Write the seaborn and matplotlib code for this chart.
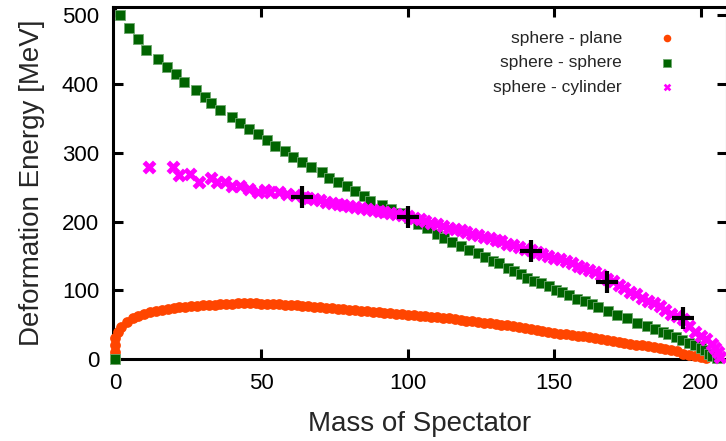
import matplotlib
matplotlib.use("Agg")
import matplotlib.pyplot as plt
import pandas as pd
import seaborn as sns

# ---- data ----
plane_x = [0, 0, 0, 0, 1, 2, 4, 6, 8, 10, 12, 14, 16, 18, 20, 22, 24, 26, 28, 30,
           32, 34, 36, 38, 40, 42, 44, 46, 48, 50, 52, 54, 56, 58, 60, 62, 64, 66,
           68, 70, 72, 74, 76, 78, 80, 82, 84, 86, 88, 90, 92, 94, 96, 98, 100,
           102, 104, 106, 108, 110, 112, 114, 116, 118, 120, 122, 124, 126, 128,
           130, 132, 134, 136, 138, 140, 142, 144, 146, 148, 150, 152, 154, 156,
           158, 160, 162, 164, 166, 168, 170, 172, 174, 176, 178, 180, 182, 184,
           186, 188, 190, 192, 194, 196, 198, 200, 202]
plane_e = [0, 10, 20, 30, 40, 47, 54, 59, 63, 66, 68, 70, 72, 73, 74, 75, 76, 77,
           77.5, 78, 78.5, 79, 79.5, 80, 80.5, 81, 81, 81, 81, 80.5, 80.5, 80,
           79.5, 79, 78.5, 78, 77, 76.5, 76, 75, 74.5, 74, 73, 72.5, 72, 71, 70.5,
           70, 69, 68, 67.5, 67, 66, 65, 64.5, 64, 63, 62, 61.5, 61, 60, 59, 58,
           57, 56, 55, 54, 53, 52, 51, 50, 49, 47.5, 46.5, 45, 44, 42.5, 41, 39.5,
           38, 37, 36, 35, 34, 33, 31.5, 30.5, 29, 28, 26.5, 25, 24, 22.5, 21, 20,
           18.5, 17, 15.5, 14, 12.5, 11, 8, 6.5, 5, 3, 1]

sphere_x = [0, 1.8, 4.7, 7.7, 10.7, 14.7, 17.7, 20.7, 23.7, 27.7, 30.8, 32.8, 35.9,
            39.9, 42.8, 45.7, 48.8, 51.9, 54.7, 57.9, 60.9, 64.0, 67.0, 70.6, 73.1,
            76.1, 79.2, 82.0, 85.1, 87.2, 91.1, 94.2, 97.4, 100.5, 103.6, 106.7,
            109.9, 112.2, 115.0, 118.1, 121.0, 124.1, 126.2, 129.2, 131.3, 134.1,
            136.4, 138.7, 140.6, 143.2, 145.5, 148.2, 150.5, 152.6, 155.2, 157.7,
            160.5, 162.8, 165.1, 168.3, 171.3, 174.7, 178.2, 181.6, 184.4, 187.0,
            189.0, 191.5, 193.5, 196.0, 198.0, 200.0, 201.5, 203.0, 204.0, 205.5]
sphere_e = [0, 500, 481, 465, 450, 437, 425, 414, 403, 392, 381, 372, 362, 352, 344,
            335, 327, 318, 310, 302, 294, 287, 279, 272, 264, 257, 251, 244, 237,
            230, 224, 218, 212, 205, 197, 190, 182, 176, 170, 164, 159, 154, 148,
            143, 139, 133, 128, 123, 118, 114, 110, 106, 101, 97, 93, 88, 84, 79.5,
            75, 70, 64, 59, 53, 48, 43, 40, 37, 32, 28, 24, 20, 16, 13, 8, 5, 1]

cyl_x = [11.7, 19.7, 21.7, 25.7, 28.8, 32.8, 34.8, 37.6, 39.9, 42.8, 45.6, 49.0,
         51.3, 53.0, 55.9, 58.7, 61.5, 64.4, 66, 68, 70, 72, 74, 76, 78, 80, 82,
         84, 86, 88, 90, 92, 94, 96, 98, 100, 102, 104, 106, 108, 110, 112, 114,
         116, 118, 120, 122, 124, 126, 128, 130, 132, 134, 136, 138, 140, 142,
         144, 146, 148, 150, 152, 154, 156, 158, 160, 162, 164, 166, 168, 170,
         172, 174, 176, 178, 180, 182, 184, 186, 188, 190, 192, 194, 196, 198,
         200, 202, 204, 205, 206, 206.5]
cyl_e = [280, 280, 268, 269, 258, 263, 258, 257, 251, 251, 247, 243, 246, 243,
         243, 240, 238, 235, 234, 232.5, 231, 229, 227, 225.5, 224, 222.5, 221,
         219.5, 218, 217, 215.5, 214, 212.5, 211, 209, 207.5, 205.5, 203.5, 201,
         198.5, 196, 193.5, 191, 189, 187, 185, 182.5, 180, 178, 175.5, 173, 171,
         168, 165.5, 163, 160.5, 158, 155.5, 152.5, 150, 147.5, 145, 142.5, 139.5,
         136, 133, 130, 126, 122, 117, 113, 108, 103, 98, 94, 89, 85, 81, 77, 72,
         66, 63, 58, 48, 40, 34, 29, 22, 16, 10, 3]

cross_x = [64, 100, 142, 168, 194]
cross_e = [236, 207, 157, 112, 59]

sns.set_theme(style="ticks")
plt.rcParams["font.family"] = ["Liberation Sans", "DejaVu Sans"]

fig = plt.figure(figsize=(7.26, 4.41), dpi=100)
ax = fig.add_axes([0.1556, 0.1859, 0.8457, 0.7982])

sns.scatterplot(x=plane_x, y=plane_e, ax=ax, marker="o", s=60, color="#ff4500",
                linewidth=0, label="sphere - plane", clip_on=False, zorder=3)
sns.scatterplot(x=sphere_x, y=sphere_e, ax=ax, marker="s", s=52, color="#006400",
                edgecolor="#6fa86f", linewidth=0.6, label="sphere - sphere",
                clip_on=False, zorder=4)
sns.scatterplot(x=cyl_x, y=cyl_e, ax=ax, marker="X", s=100, color="#ff00ff",
                linewidth=0, label="sphere - cylinder", clip_on=False, zorder=5)
ax.plot(cross_x, cross_e, linestyle="none", marker="+", markersize=16,
        markeredgewidth=3, color="black", zorder=6)

ax.set_xlim(-0.7, 209)
ax.set_ylim(0, 512)
ax.set_xticks([0, 50, 100, 150, 200])
ax.set_yticks([0, 100, 200, 300, 400, 500])

for side in ["left", "right", "top", "bottom"]:
    ax.spines[side].set_visible(True)
    ax.spines[side].set_linewidth(2.2)
    ax.spines[side].set_color("black")
ax.tick_params(direction="in", length=7, width=2.2, top=True, right=True,
               labelsize=16, colors="black")
ax.tick_params(axis="x", pad=10)
ax.tick_params(axis="y", pad=10)

ax.set_xlabel("Mass of Spectator", fontsize=20, labelpad=12)
ax.set_ylabel("Deformation Energy [MeV]", fontsize=20, labelpad=12)

leg = ax.legend(loc="upper right", bbox_to_anchor=(0.945, 0.958), frameon=False,
                markerfirst=False, fontsize=12.5, labelspacing=0.55,
                handletextpad=1.6, borderpad=0, scatterpoints=1)
for h in leg.legend_handles:
    h.set_sizes([30])

fig.savefig("out.png", dpi=100)
plt.close(fig)
